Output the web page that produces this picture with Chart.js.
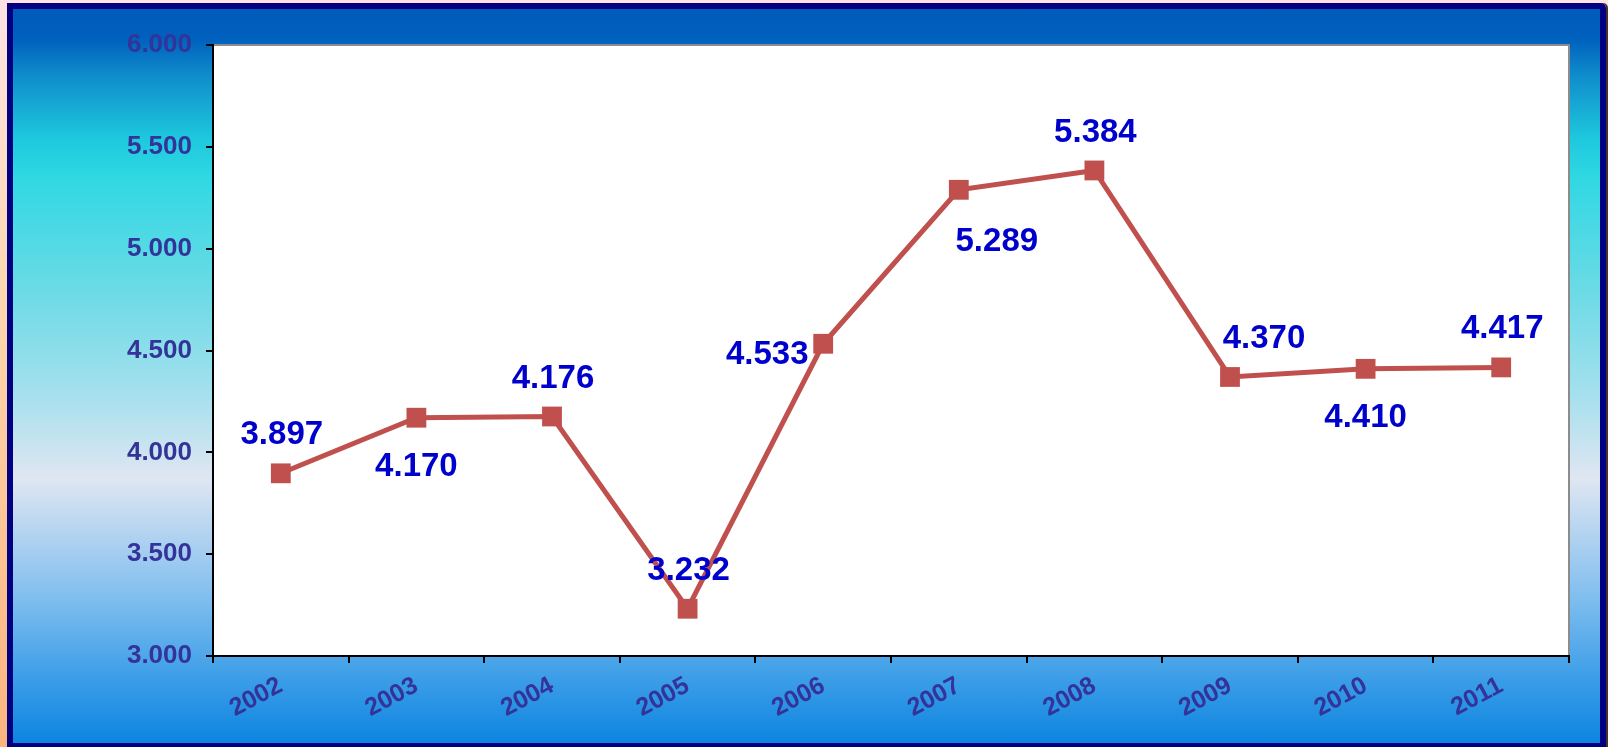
<!DOCTYPE html>
<html>
<head>
<meta charset="utf-8">
<script src="https://cdn.jsdelivr.net/npm/chart.js@4.4.1/dist/chart.umd.min.js"></script>
<style>
  html, body { margin: 0; padding: 0; }
  body {
    width: 1608px; height: 747px; overflow: hidden; position: relative;
    background: linear-gradient(to bottom, #fde3e6 0%, #fdd6b0 40%, #fbb47e 100%);
  }
  #frame {
    position: absolute; left: 7px; top: 3px;
    width: 1587px; height: 734px;
    border: 6px solid #000080;
    border-top-right-radius: 5px;
    box-shadow: 2px 0 0 #4a3030;
    background: linear-gradient(to bottom,
      #005bbb 0%, #0060be 4%, #0f8ccb 9%, #1ec9de 17.8%, #30d8e3 23%,
      #70dbe6 39.6%, #a8e0ee 53%, #dfe6f2 64%, #7ebdee 80.5%, #3d9ee8 91%, #0d85e0 100%);
  }
  #wrap { position: absolute; left: 0; top: 0; width: 1587px; height: 734px; }
</style>
</head>
<body>
<div id="frame"><div id="wrap"><canvas id="myChart"></canvas></div></div>
<script>
// chart data
const years = ["2002", "2003", "2004", "2005", "2006", "2007", "2008", "2009", "2010", "2011"];
const values = [3897, 4170, 4176, 3232, 4533, 5289, 5384, 4370, 4410, 4417];
const yMin = 3000, yMax = 6000, yStep = 500;

// where each value label sits relative to its marker
const labelSpot = ["above", "below", "above", "above", "left", "belowRight", "above", "aboveRight", "below", "above"];
const spotOffsets = {
    above: [1, -38], below: [0, 49], left: [-56, 11],
    belowRight: [38, 52], aboveRight: [34, -38]
};

function fmt(v) {
    return String(Math.round(v)).replace(/\B(?=(\d{3})+(?!\d))/g, ".");
}

// white plot area with grey top/right edges
const plotBg = {
    id: "plotBg",
    beforeDraw(chart) {
        const {ctx, chartArea: a} = chart;
        ctx.save();
        ctx.fillStyle = "#ffffff";
        ctx.fillRect(a.left, a.top, a.right - a.left, a.bottom - a.top);
        ctx.strokeStyle = "#8c8c8c";
        ctx.lineWidth = 2;
        ctx.beginPath();
        ctx.moveTo(a.left, a.top);
        ctx.lineTo(a.right, a.top);
        ctx.lineTo(a.right, a.bottom);
        ctx.stroke();
        ctx.restore();
    }
};

const valueLabels = {
    id: "valueLabels",
    afterDatasetsDraw(chart) {
        const ctx = chart.ctx;
        const meta = chart.getDatasetMeta(0);
        ctx.save();
        ctx.font = "bold 33px Arial, 'Liberation Sans', sans-serif";
        ctx.fillStyle = "#0000cc";
        ctx.textAlign = "center";
        ctx.textBaseline = "middle";
        meta.data.forEach((pt, i) => {
            const off = spotOffsets[labelSpot[i]];
            ctx.fillText(fmt(values[i]), pt.x + off[0], pt.y + off[1]);
        });
        ctx.restore();
    }
};

const ctx = document.getElementById("myChart").getContext("2d");
const myChart = new Chart(ctx, {
    type: "line",
    data: {
        labels: years,
        datasets: [{
            data: values,
            borderColor: "#c0504d",
            backgroundColor: "#c0504d",
            borderWidth: 5,
            tension: 0,
            pointStyle: "rect",
            pointRadius: 14,
            pointHoverRadius: 14,
            pointBorderWidth: 0,
            pointBackgroundColor: "#c0504d"
        }]
    },
    options: {
        responsive: true,
        maintainAspectRatio: false,
        animation: false,
        layout: { padding: { left: 0, top: 36, right: 31, bottom: 0 } },
        plugins: { legend: { display: false }, tooltip: { enabled: false } },
        scales: {
            x: {
                offset: true,
                grid: { drawOnChartArea: false, offset: true, tickLength: 7, tickColor: "#000", lineWidth: 2 },
                border: { color: "#000", width: 2 },
                ticks: {
                    autoSkip: false, minRotation: 28, maxRotation: 28, padding: 8,
                    color: "#333399",
                    font: { family: "Arial, 'Liberation Sans', sans-serif", size: 25, weight: "bold" }
                },
                afterFit(scale) { scale.height = 87; }
            },
            y: {
                min: yMin, max: yMax,
                grid: { drawOnChartArea: false, tickLength: 7, tickColor: "#000", lineWidth: 2 },
                border: { color: "#000", width: 2 },
                ticks: {
                    stepSize: yStep, padding: 14,
                    color: "#333399",
                    font: { family: "Arial, 'Liberation Sans', sans-serif", size: 26, weight: "bold" },
                    callback: v => fmt(v)
                },
                afterFit(scale) { scale.width = 200; }
            }
        }
    },
    plugins: [plotBg, valueLabels]
});
</script>
</body>
</html>
